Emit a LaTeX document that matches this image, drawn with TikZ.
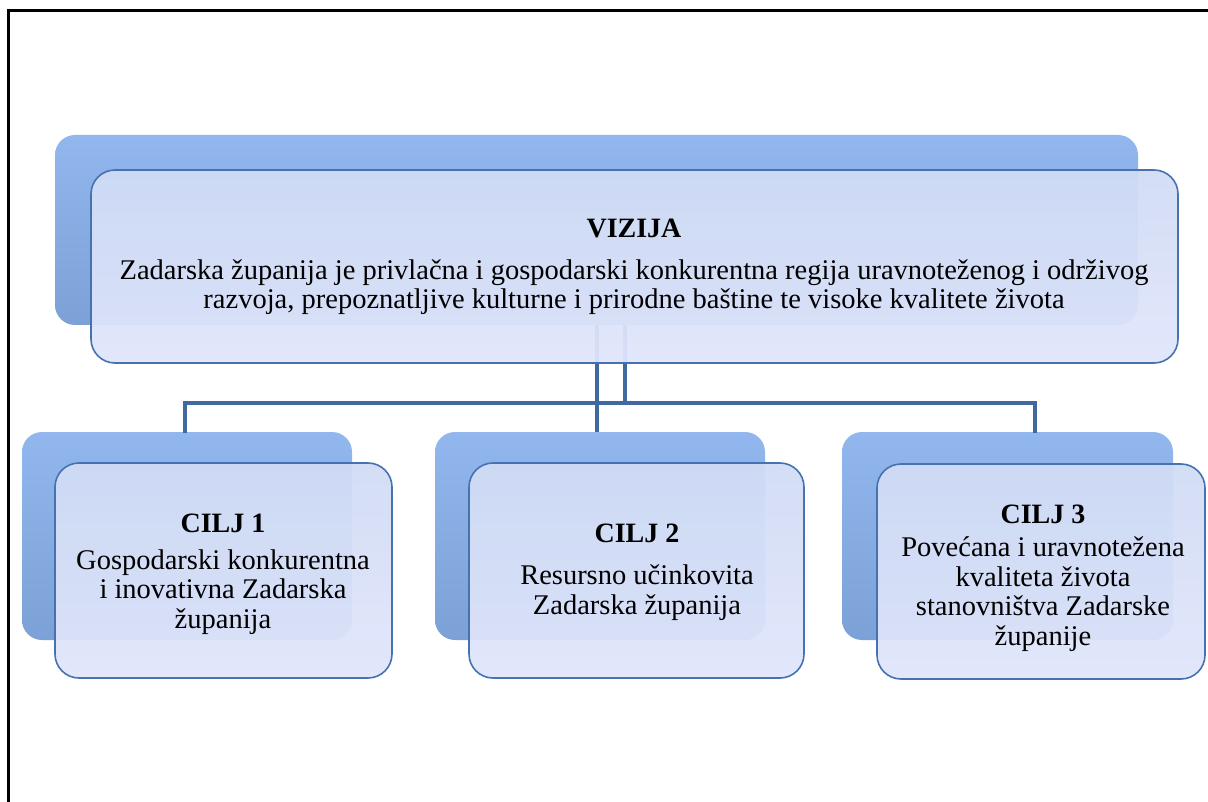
\documentclass[tikz,border=0pt]{standalone}
\usepackage{fontspec}
\setmainfont{Liberation Serif}
\definecolor{backtop}{HTML}{92B7EE}
\definecolor{backbot}{HTML}{7CA1D6}
\definecolor{fronttop}{HTML}{D1DCF5}
\definecolor{frontbot}{HTML}{E1E6FB}
\definecolor{edgeblue}{HTML}{4772B0}
\definecolor{connblue}{HTML}{40699F}
\tikzset{
 backbox/.style={draw=none, rounded corners=20pt, top color=backtop, bottom color=backbot, inner sep=0pt},
 frontbox/.style={draw=edgeblue, line width=1.6pt, rounded corners=24pt, top color=fronttop, bottom color=frontbot, fill opacity=0.94, inner sep=0pt},
 connline/.style={draw=connblue, line width=4pt},
 titletext/.style={font=\fontsize{28}{32}\selectfont\bfseries, inner sep=0pt},
 bodytext/.style={font=\fontsize{28.5}{29.5}\selectfont, align=center, inner sep=0pt},
}
\begin{document}
\begin{tikzpicture}[x=1pt,y=-1pt]
\useasboundingbox (0,0) rectangle (1208,802);
\clip (0,0) rectangle (1208,802);
\fill[white] (0,0) rectangle (1208,802);
\draw[line width=3pt] (8,11) rectangle (1240,840);

% back boxes
\node[backbox, minimum width=1083pt, minimum height=190pt] (vb) at (596.5,230) {};
\node[backbox, minimum width=330pt, minimum height=208pt] (c1b) at (187,536) {};
\node[backbox, minimum width=330pt, minimum height=208pt] (c2b) at (600,536) {};
\node[backbox, minimum width=331pt, minimum height=208pt] (c3b) at (1007.5,536) {};

% connectors
\coordinate (j1) at (625,325);
\coordinate (j1b) at (625,403);
\coordinate (hl) at (185,403);
\coordinate (hr) at (1035,403);
\coordinate (t1) at (185,433);
\coordinate (t3) at (1035,433);
\draw[connline] (vb.south) -- (vb.south |- c2b.north);
\draw[connline] (j1) -- (j1b);
\draw[connline] (t1) -- (hl) -- (hr) -- (t3);

% front boxes
\node[frontbox, minimum width=1087pt, minimum height=193pt] (vf) at (634.5,266.5) {};
\node[frontbox, minimum width=337pt, minimum height=215pt] (c1f) at (223.5,570.5) {};
\node[frontbox, minimum width=335pt, minimum height=215pt] (c2f) at (636.5,570.5) {};
\node[frontbox, minimum width=328pt, minimum height=215pt] (c3f) at (1041,571.5) {};

% texts
\node[titletext] (vt) at (634,228) {VIZIJA};
\node[bodytext] (vx) at (634,287) {Zadarska županija je privlačna i gospodarski konkurentna regija uravnoteženog i održivog\\razvoja, prepoznatljive kulturne i prirodne baštine te visoke kvalitete života};

\node[titletext] (c1t) at (223,523) {CILJ 1};
\node[bodytext] (c1x) at (223,592) {Gospodarski konkurentna\\i inovativna Zadarska\\županija};

\node[titletext] (c2t) at (637,533) {CILJ 2};
\node[bodytext] (c2x) at (637,592.5) {Resursno učinkovita\\Zadarska županija};

\node[titletext] (c3t) at (1043,514) {CILJ 3};
\node[bodytext] (c3x) at (1043,594) {Povećana i uravnotežena\\kvaliteta života\\stanovništva Zadarske\\županije};
\end{tikzpicture}
\end{document}
